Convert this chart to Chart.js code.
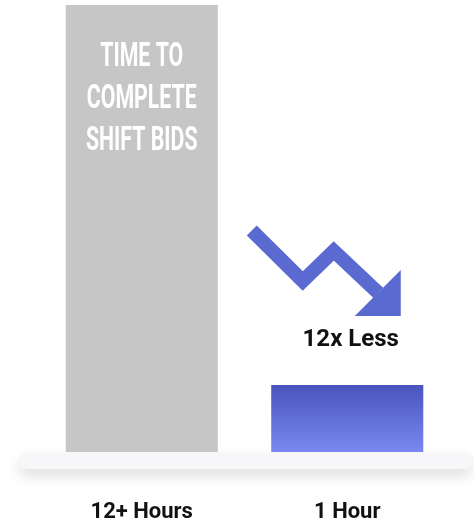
<!DOCTYPE html>
<html>
<head>
<meta charset="utf-8">
<script src="https://cdn.jsdelivr.net/npm/chart.js@4"></script>
<style>
    html, body { margin: 0; padding: 0; background: #ffffff; }
    #wrap { width: 474px; height: 525px; position: relative; }
</style>
</head>
<body>
<div id="wrap"><canvas id="bidChart"></canvas></div>
<script>
    // Chart data (hours to complete shift bids, as drawn)
    const categories = ['12+ Hours', '1 Hour'];
    const hours = [12, 1.8];
    const barTitle = ['TIME TO', 'COMPLETE', 'SHIFT BIDS'];
    const callout = '12x Less';

    const grayColor = '#c6c6c6';
    const arrowColor = '#5a6ad1';

    // Light "shelf" under the bars
    const shelfPlugin = {
        id: 'shelf',
        beforeDatasetsDraw(chart) {
            const ctx = chart.ctx;
            const top = chart.chartArea.bottom;
            ctx.save();
            ctx.shadowColor = 'rgba(0, 0, 0, 0.13)';
            ctx.shadowBlur = 14;
            ctx.shadowOffsetY = 7;
            ctx.fillStyle = '#f7f6f9';
            ctx.beginPath();
            ctx.roundRect(19, top, 453, 17, 7);
            ctx.fill();
            ctx.restore();
        }
    };

    // Title inside the gray bar, arrow and callout above the blue bar
    const decorPlugin = {
        id: 'decor',
        afterDatasetsDraw(chart) {
            const ctx = chart.ctx;
            const bars = chart.getDatasetMeta(0).data;
            const big = bars[0];
            const small = bars[1];

            // condensed white caps
            ctx.save();
            ctx.fillStyle = '#ffffff';
            ctx.font = 'bold 34px Roboto';
            ctx.textAlign = 'center';
            ctx.textBaseline = 'alphabetic';
            const sx = 110 / ctx.measureText('COMPLETE').width;
            barTitle.forEach((line, i) => {
                ctx.save();
                ctx.translate(big.x, big.y + 61 + i * 42);
                ctx.scale(sx, 1);
                ctx.fillText(line, 0, 0);
                ctx.restore();
            });
            ctx.restore();

            // zigzag arrow, relative to the blue bar top
            const ox = small.x;
            const oy = small.y;
            ctx.save();
            ctx.strokeStyle = arrowColor;
            ctx.fillStyle = arrowColor;
            ctx.lineWidth = 14;
            ctx.lineJoin = 'miter';
            ctx.lineCap = 'butt';
            ctx.beginPath();
            ctx.moveTo(ox - 95.5, oy - 154.5);
            ctx.lineTo(ox - 44.5, oy - 104);
            ctx.lineTo(ox - 13.5, oy - 134);
            ctx.lineTo(ox + 31, oy - 92);
            ctx.stroke();
            ctx.beginPath();
            ctx.moveTo(ox + 53.5, oy - 115);
            ctx.lineTo(ox + 53.5, oy - 69);
            ctx.lineTo(ox + 7.5, oy - 69);
            ctx.closePath();
            ctx.fill();
            ctx.restore();

            // callout text
            ctx.save();
            ctx.fillStyle = '#111111';
            ctx.font = 'bold 24px Roboto';
            ctx.textAlign = 'center';
            ctx.textBaseline = 'alphabetic';
            ctx.fillText(callout, ox + 3.5, oy - 39);
            ctx.restore();
        }
    };

    const ctx = document.getElementById('bidChart').getContext('2d');
    new Chart(ctx, {
        type: 'bar',
        data: {
            labels: categories,
            datasets: [{
                data: hours,
                backgroundColor: (context) => {
                    if (context.dataIndex === 0) return grayColor;
                    const chart = context.chart;
                    const area = chart.chartArea;
                    if (!area) return '#6270dc';
                    const top = chart.scales.y.getPixelForValue(hours[1]);
                    const g = chart.ctx.createLinearGradient(0, top, 0, area.bottom);
                    g.addColorStop(0, '#4954bd');
                    g.addColorStop(1, '#7b88f2');
                    return g;
                },
                borderWidth: 0,
                categoryPercentage: 1,
                barPercentage: 0.74
            }]
        },
        options: {
            responsive: true,
            maintainAspectRatio: false,
            animation: false,
            layout: { padding: { top: 5, left: 39, right: 24, bottom: 0 } },
            plugins: {
                legend: { display: false },
                tooltip: { enabled: false }
            },
            scales: {
                x: {
                    offset: true,
                    border: { display: false },
                    grid: { display: false, drawTicks: false },
                    ticks: {
                        color: '#111111',
                        padding: 47,
                        font: { family: 'Roboto', weight: 'bold', size: 22 }
                    },
                    afterFit: (scale) => { scale.height = 73; }
                },
                y: {
                    display: false,
                    min: 0,
                    max: 12
                }
            }
        },
        plugins: [shelfPlugin, decorPlugin]
    });
</script>
</body>
</html>
